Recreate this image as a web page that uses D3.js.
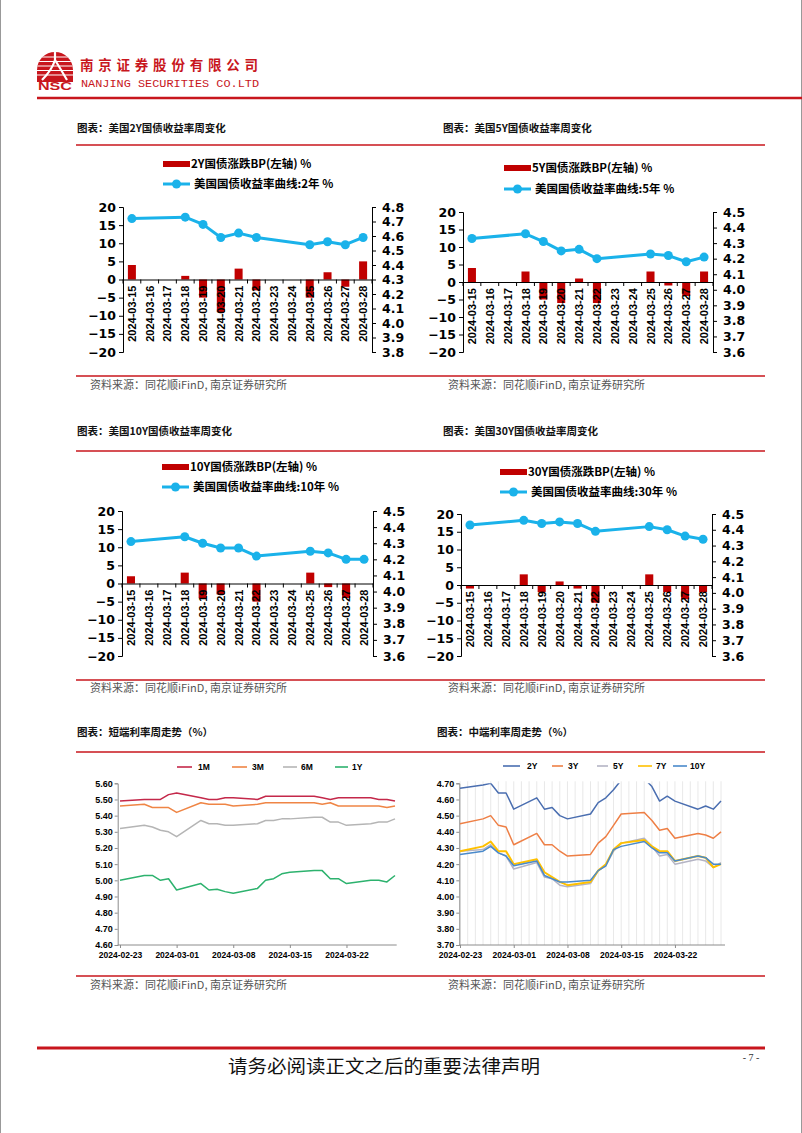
<!DOCTYPE html>
<html><head><meta charset="utf-8">
<script src="https://cdn.jsdelivr.net/npm/d3@7"></script>
<style>body{margin:0;background:#fff;} svg{display:block;}</style>
</head><body>
<script>
// ---------------- DATA ----------------
const weekDates = ["2024-03-15","2024-03-16","2024-03-17","2024-03-18","2024-03-19","2024-03-20","2024-03-21","2024-03-22","2024-03-23","2024-03-24","2024-03-25","2024-03-26","2024-03-27","2024-03-28"];
const bpTicks = [-20,-15,-10,-5,0,5,10,15,20];

const bp2Y    = [4,null,null,1,-5,-9,3,-3,null,null,-5,2,-2,5];
const yield2Y = [4.72,null,null,4.73,4.68,4.59,4.62,4.59,null,null,4.54,4.56,4.54,4.59];
const ticks2Y = [3.8,3.9,4.0,4.1,4.2,4.3,4.4,4.5,4.6,4.7,4.8];

const bp5Y    = [4,null,null,3,-5,-6,1,-6,null,null,3,-1,-4,3];
const yield5Y = [4.33,null,null,4.36,4.31,4.25,4.26,4.20,null,null,4.23,4.22,4.18,4.21];

const bp10Y    = [2,null,null,3,-4,-3,0,-5,null,null,3,-1,-4,0];
const yield10Y = [4.31,null,null,4.34,4.30,4.27,4.27,4.22,null,null,4.25,4.24,4.20,4.20];

const bp30Y    = [-1,null,null,3,-2,1,-1,-5,null,null,3,-2,-4,-2];
const yield30Y = [4.43,null,null,4.46,4.44,4.45,4.44,4.39,null,null,4.42,4.40,4.36,4.34];

const ticksLong = [3.6,3.7,3.8,3.9,4.0,4.1,4.2,4.3,4.4,4.5];

const tradeDates = ["2024-02-23","2024-02-26","2024-02-27","2024-02-28","2024-02-29","2024-03-01","2024-03-04","2024-03-05","2024-03-06","2024-03-07","2024-03-08","2024-03-11","2024-03-12","2024-03-13","2024-03-14","2024-03-15","2024-03-18","2024-03-19","2024-03-20","2024-03-21","2024-03-22","2024-03-25","2024-03-26","2024-03-27","2024-03-28"];
const dateTickLabels = ["2024-02-23","2024-03-01","2024-03-08","2024-03-15","2024-03-22"];

const r1M = [5.49,5.50,5.50,5.50,5.53,5.54,5.51,5.50,5.50,5.51,5.51,5.50,5.52,5.52,5.52,5.52,5.52,5.51,5.50,5.51,5.51,5.51,5.50,5.50,5.49];
const r3M = [5.46,5.47,5.45,5.45,5.45,5.42,5.48,5.47,5.47,5.47,5.46,5.47,5.48,5.48,5.48,5.48,5.48,5.47,5.48,5.46,5.46,5.46,5.46,5.45,5.46];
const r6M = [5.32,5.34,5.33,5.31,5.30,5.27,5.37,5.35,5.35,5.34,5.34,5.35,5.37,5.37,5.38,5.38,5.39,5.39,5.36,5.36,5.34,5.35,5.36,5.36,5.38];
const r1Y = [5.00,5.03,5.03,5.00,5.01,4.94,4.98,4.94,4.945,4.93,4.92,4.95,5.00,5.01,5.04,5.05,5.06,5.06,5.01,5.01,4.98,5.00,5.00,4.99,5.03];
const shortTicks = [4.60,4.70,4.80,4.90,5.00,5.10,5.20,5.30,5.40,5.50,5.60];

const t2Y  = [4.67,4.69,4.70,4.64,4.64,4.54,4.61,4.54,4.55,4.50,4.48,4.51,4.58,4.61,4.66,4.72,4.73,4.68,4.59,4.62,4.59,4.54,4.56,4.54,4.59];
const t3Y  = [4.45,4.48,4.50,4.44,4.43,4.32,4.39,4.32,4.32,4.28,4.25,4.26,4.33,4.37,4.44,4.51,4.52,4.47,4.41,4.42,4.36,4.39,4.38,4.36,4.40];
const t5Y  = [4.28,4.29,4.32,4.27,4.25,4.17,4.21,4.12,4.11,4.07,4.06,4.08,4.16,4.19,4.28,4.33,4.36,4.31,4.25,4.26,4.20,4.23,4.22,4.18,4.21];
const t7Y  = [4.28,4.31,4.34,4.28,4.28,4.20,4.23,4.15,4.12,4.09,4.07,4.09,4.16,4.20,4.29,4.33,4.35,4.31,4.28,4.28,4.22,4.25,4.24,4.18,4.20];
const t10Y = [4.26,4.28,4.31,4.27,4.25,4.19,4.22,4.13,4.11,4.09,4.09,4.10,4.16,4.19,4.29,4.31,4.34,4.30,4.27,4.27,4.22,4.25,4.24,4.20,4.20];
const midTicks = [3.70,3.80,3.90,4.00,4.10,4.20,4.30,4.40,4.50,4.60,4.70];

// ---------------- SETUP ----------------
const W = 802, H = 1133;
const RED = "#C8161D";
const CJK = "'Noto Sans CJK SC','Noto Sans',sans-serif";
const svg = d3.select("body").append("svg").attr("width", W).attr("height", H);
svg.append("rect").attr("width", W).attr("height", H).attr("fill", "#fff");
const defs = svg.append("defs");
svg.append("line").attr("x1",0.5).attr("x2",0.5).attr("y1",0).attr("y2",H).attr("stroke","#999");
svg.append("line").attr("x1",W-0.5).attr("x2",W-0.5).attr("y1",0).attr("y2",H).attr("stroke","#999");

// ---------------- HEADER ----------------
const logo = svg.append("g");
defs.append("clipPath").attr("id","domeClip").append("path")
  .attr("d","M37,82 L37,70 A18,18 0 0 1 73,70 L73,82 Z");
const lg = logo.append("g").attr("clip-path","url(#domeClip)");
lg.append("rect").attr("x",36).attr("y",50).attr("width",38).attr("height",33).attr("fill",RED);
[57,61.5,66,70.5,75].forEach(yy=>{
  lg.append("line").attr("x1",36).attr("x2",74).attr("y1",yy).attr("y2",yy).attr("stroke","#fff").attr("stroke-width",1.1);
});
lg.append("path").attr("d","M55,52 L55,60 Q52,70 42,80").attr("fill","none").attr("stroke","#fff").attr("stroke-width",2.2);
lg.append("path").attr("d","M55,60 Q60,68 67,80").attr("fill","none").attr("stroke","#fff").attr("stroke-width",2.2);
logo.append("text").attr("x",38).attr("y",90).attr("font-family","'Liberation Sans',Arial,sans-serif")
  .attr("font-weight","bold").attr("font-size",11).attr("fill",RED)
  .attr("textLength",34).attr("lengthAdjust","spacingAndGlyphs").text("NSC");

svg.append("text").attr("x",80).attr("y",70).attr("font-family",CJK).attr("font-weight",700)
  .attr("font-size",13.5).attr("fill",RED).attr("textLength",178).attr("lengthAdjust","spacing")
  .text("南京证券股份有限公司");
svg.append("text").attr("x",81).attr("y",87).attr("font-family","'Liberation Mono','DejaVu Sans Mono',monospace")
  .attr("font-size",11).attr("fill",RED).attr("textLength",178).attr("lengthAdjust","spacingAndGlyphs")
  .text("NANJING SECURITIES CO.LTD");
svg.append("line").attr("x1",37).attr("x2",W).attr("y1",98).attr("y2",98).attr("stroke",RED).attr("stroke-width",2.5);

// ---------------- SECTION TEXTS & RULES ----------------
const titles = [
  {x:77,y:132,t:"图表：美国2Y国债收益率周变化"},{x:443,y:132,t:"图表：美国5Y国债收益率周变化"},
  {x:77,y:435,t:"图表：美国10Y国债收益率周变化"},{x:443,y:435,t:"图表：美国30Y国债收益率周变化"},
  {x:77,y:736,t:"图表：短端利率周走势（%）"},{x:437,y:736,t:"图表：中端利率周走势（%）"}
];
titles.forEach(d=>svg.append("text").attr("x",d.x).attr("y",d.y).attr("font-family",CJK)
  .attr("font-weight",700).attr("font-size",10.5).attr("fill","#111").text(d.t));
const srcText = "资料来源：同花顺iFinD, 南京证券研究所";
[[90,389],[448,389],[90,692],[448,692],[90,989],[448,989]].forEach(p=>
  svg.append("text").attr("x",p[0]).attr("y",p[1]).attr("font-family",CJK).attr("font-size",11)
    .attr("fill","#555").text(srcText));
[145,376,451,680,752,976].forEach(yy=>
  svg.append("line").attr("x1",76).attr("x2",765).attr("y1",yy).attr("y2",yy)
    .attr("stroke",RED).attr("stroke-width",1.5));

// ---------------- BAR + LINE CHARTS ----------------
function styleAxis(sel, font, size, weight, color, lineColor){
  sel.select(".domain").attr("stroke",lineColor);
  sel.selectAll(".tick line").attr("stroke",lineColor);
  sel.selectAll("text").attr("font-family",font).attr("font-size",size).attr("font-weight",weight).attr("fill",color);
}
const NUMF = "'DejaVu Sans',sans-serif";
const LBLF = "'Liberation Sans',Arial,sans-serif";
const BARC = "#C00000", LINEC = "#1AB2EA";

function barLine(c){
  const g = svg.append("g");
  const x = d3.scaleBand().domain(weekDates).range([c.left,c.right]);
  const yL = d3.scaleLinear().domain([-20,20]).range([c.bottom,c.top]);
  const yR = d3.scaleLinear().domain(c.rDomain).range([c.bottom,c.top]);
  const bw = x.bandwidth()*0.45;
  const rows = weekDates.map((d,i)=>({d, bp:c.bp[i], y:c.yld[i]}));
  g.selectAll("rect.bar").data(rows.filter(r=>r.bp!=null && r.bp!==0)).join("rect")
    .attr("x",r=>x(r.d)+x.bandwidth()/2-bw/2).attr("width",bw)
    .attr("y",r=>yL(Math.max(0,r.bp))).attr("height",r=>Math.abs(yL(r.bp)-yL(0)))
    .attr("fill",BARC);
  const ax = g.append("g").attr("transform",`translate(${c.left},0)`)
    .call(d3.axisLeft(yL).tickValues(bpTicks).tickSize(4).tickPadding(3).tickFormat(d3.format("d")));
  styleAxis(ax, NUMF, 12.5, "bold", "#000", "#000");
  const ar = g.append("g").attr("transform",`translate(${c.right},0)`)
    .call(d3.axisRight(yR).tickValues(c.rTicks).tickSize(4).tickPadding(6).tickFormat(d3.format(".1f")));
  styleAxis(ar, NUMF, 12.5, "bold", "#000", "#000");
  const ax0 = g.append("g").attr("transform",`translate(0,${yL(0)})`)
    .call(d3.axisBottom(x).tickValues([]).tickSizeOuter(0));
  ax0.select(".domain").attr("stroke","#000");
  g.selectAll("line.ct").data(d3.range(weekDates.length+1)).join("line")
    .attr("x1",i=>c.left+i*x.step()).attr("x2",i=>c.left+i*x.step())
    .attr("y1",yL(0)).attr("y2",yL(0)+4).attr("stroke","#000");
  g.selectAll("text.xl").data(weekDates).join("text")
    .attr("transform",d=>`translate(${x(d)+x.bandwidth()/2},${yL(0)+6}) rotate(-90)`)
    .attr("text-anchor","end").attr("dominant-baseline","central")
    .attr("font-family",LBLF).attr("font-weight","bold").attr("font-size",11).attr("fill","#000")
    .text(d=>d);
  const pts = rows.filter(r=>r.y!=null);
  g.append("path").datum(pts)
    .attr("d",d3.line().x(r=>x(r.d)+x.bandwidth()/2).y(r=>yR(r.y)))
    .attr("fill","none").attr("stroke",LINEC).attr("stroke-width",3).attr("stroke-linejoin","round");
  g.selectAll("circle.pt").data(pts).join("circle")
    .attr("cx",r=>x(r.d)+x.bandwidth()/2).attr("cy",r=>yR(r.y)).attr("r",4.5).attr("fill",LINEC);
  g.append("rect").attr("x",c.lx).attr("y",c.ly1-3).attr("width",27).attr("height",6).attr("fill",BARC);
  g.append("text").attr("x",c.lx+28).attr("y",c.ly1+4).attr("font-family",CJK).attr("font-weight",700)
    .attr("font-size",11.5).attr("fill","#000").text(c.t1);
  g.append("line").attr("x1",c.lx).attr("x2",c.lx+27).attr("y1",c.ly2).attr("y2",c.ly2)
    .attr("stroke",LINEC).attr("stroke-width",3);
  g.append("circle").attr("cx",c.lx+13.5).attr("cy",c.ly2).attr("r",4.5).attr("fill",LINEC);
  g.append("text").attr("x",c.lx+31).attr("y",c.ly2+4).attr("font-family",CJK).attr("font-weight",700)
    .attr("font-size",11.5).attr("fill","#000").text(c.t2);
}

barLine({left:123,right:372,top:207,bottom:352,bp:bp2Y,yld:yield2Y,rDomain:[3.8,4.8],rTicks:ticks2Y,
  lx:163,ly1:164,ly2:184,t1:"2Y国债涨跌BP(左轴) %",t2:"美国国债收益率曲线:2年 %"});
barLine({left:463,right:713,top:212,bottom:352,bp:bp5Y,yld:yield5Y,rDomain:[3.6,4.5],rTicks:ticksLong,
  lx:504,ly1:168,ly2:189,t1:"5Y国债涨跌BP(左轴) %",t2:"美国国债收益率曲线:5年 %"});
barLine({left:122,right:373,top:511,bottom:656,bp:bp10Y,yld:yield10Y,rDomain:[3.6,4.5],rTicks:ticksLong,
  lx:162,ly1:467,ly2:487,t1:"10Y国债涨跌BP(左轴) %",t2:"美国国债收益率曲线:10年 %"});
barLine({left:461,right:712,top:514,bottom:656,bp:bp30Y,yld:yield30Y,rDomain:[3.6,4.5],rTicks:ticksLong,
  lx:500,ly1:472,ly2:492,t1:"30Y国债涨跌BP(左轴) %",t2:"美国国债收益率曲线:30年 %"});

// ---------------- MULTI-LINE CHARTS ----------------
const parse = d3.timeParse("%Y-%m-%d");
function multiLine(c){
  const g = svg.append("g");
  const x = d3.scaleTime().domain([parse(tradeDates[0]), parse(tradeDates[tradeDates.length-1])]).range([c.x0,c.x1]);
  const y = d3.scaleLinear().domain(c.yDomain).range([c.bottom,c.top]);
  const id = "clip"+c.id;
  defs.append("clipPath").attr("id",id).append("rect")
    .attr("x",c.left).attr("y",c.top).attr("width",c.axisEnd-c.left).attr("height",c.bottom-c.top);
  if(c.grid){
    const days = d3.timeDay.range(parse(tradeDates[0]), d3.timeDay.offset(parse(tradeDates[tradeDates.length-1]),1));
    g.selectAll("line.vg").data(days).join("line")
      .attr("x1",d=>x(d)).attr("x2",d=>x(d)).attr("y1",c.top-2).attr("y2",c.bottom)
      .attr("stroke","#E2E2E2").attr("stroke-width",0.8);
  }
  const ay = g.append("g").attr("transform",`translate(${c.left},0)`)
    .call(d3.axisLeft(y).tickValues(c.yTicks).tickSize(3).tickPadding(2).tickFormat(d3.format(".2f")));
  styleAxis(ay, LBLF, 9, "bold", "#000", "#8c8c8c");
  g.append("line").attr("x1",c.left).attr("x2",c.axisEnd).attr("y1",c.bottom).attr("y2",c.bottom).attr("stroke","#8c8c8c");
  const axx = g.append("g").attr("transform",`translate(0,${c.bottom})`)
    .call(d3.axisBottom(x).tickValues(dateTickLabels.map(parse)).tickSize(3).tickPadding(4).tickFormat(d3.timeFormat("%Y-%m-%d")));
  styleAxis(axx, LBLF, 8.5, "bold", "#000", "#8c8c8c");
  axx.select(".domain").remove();
  const lines = g.append("g").attr("clip-path",`url(#${id})`);
  c.series.forEach(s=>{
    const pts = tradeDates.map((d,i)=>({d:parse(d), v:s.vals[i]}));
    lines.append("path").datum(pts).attr("d",d3.line().x(p=>x(p.d)).y(p=>y(p.v)))
      .attr("fill","none").attr("stroke",s.color).attr("stroke-width",s.w).attr("stroke-linejoin","round");
  });
  c.series.forEach((s,i)=>{
    const L = c.legend[i];
    g.append("line").attr("x1",L[0]).attr("x2",L[1]).attr("y1",c.ly).attr("y2",c.ly).attr("stroke",s.color).attr("stroke-width",1.6);
    g.append("text").attr("x",L[2]).attr("y",c.ly+3).attr("font-family",LBLF).attr("font-weight","bold")
      .attr("font-size",8.5).attr("fill","#000").text(s.name);
  });
}

multiLine({id:"s",left:117.7,axisEnd:396.7,x0:120,x1:395,top:783.3,bottom:945,yDomain:[4.6,5.6],yTicks:shortTicks,grid:false,
  ly:767,
  series:[{name:"1M",vals:r1M,color:"#C4284A",w:1.5},{name:"3M",vals:r3M,color:"#EF8545",w:1.5},
          {name:"6M",vals:r6M,color:"#B5B5B5",w:1.5},{name:"1Y",vals:r1Y,color:"#2DB26E",w:1.5}],
  legend:[[177,192,198],[232,247,252],[283,297,301],[335,348,352]]});

multiLine({id:"m",left:459.3,axisEnd:725,x0:460,x1:721,top:783.3,bottom:945,yDomain:[3.7,4.7],yTicks:midTicks,grid:true,
  ly:766,
  series:[{name:"2Y",vals:t2Y,color:"#4A6EB0",w:1.5},{name:"3Y",vals:t3Y,color:"#EE7F45",w:1.5},
          {name:"5Y",vals:t5Y,color:"#B4B4C4",w:1.5},{name:"7Y",vals:t7Y,color:"#FFC000",w:2},
          {name:"10Y",vals:t10Y,color:"#4A8ACB",w:1.5}],
  legend:[[503,520,527],[552,563,568],[597,608,613],[638,652,656],[673,687,690]]});

// ---------------- FOOTER ----------------
svg.append("line").attr("x1",37).attr("x2",765).attr("y1",1048).attr("y2",1048).attr("stroke",RED).attr("stroke-width",3);
svg.append("text").attr("x",228).attr("y",1073).attr("font-family",CJK).attr("font-size",18)
  .attr("fill","#111").attr("textLength",312).attr("lengthAdjust","spacingAndGlyphs").text("请务必阅读正文之后的重要法律声明");
svg.append("text").attr("x",751).attr("y",1061).attr("text-anchor","middle").attr("font-family","'Liberation Serif',serif")
  .attr("font-size",10).attr("fill","#333").text("- 7 -");
</script>
</body></html>
